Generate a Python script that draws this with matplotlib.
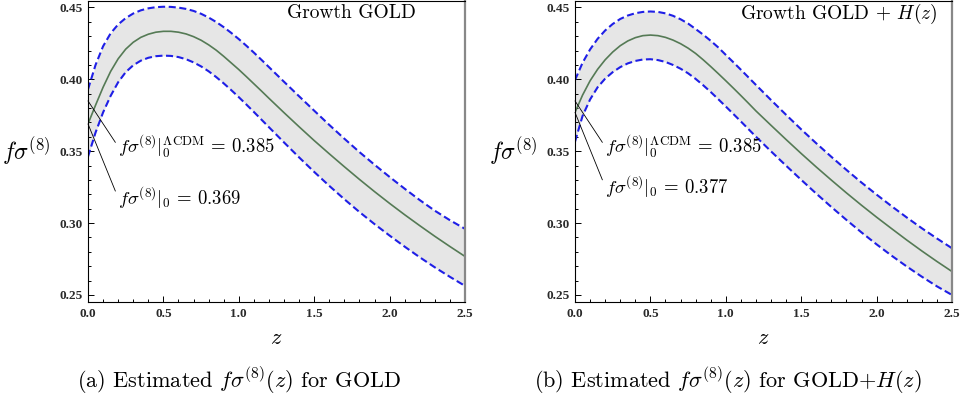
import numpy as np
import matplotlib
matplotlib.use("Agg")
import matplotlib.pyplot as plt
from matplotlib.ticker import MultipleLocator

plt.rcParams['mathtext.fontset'] = 'cm'
plt.rcParams['axes.unicode_minus'] = False

z = [0.0, 0.05, 0.1, 0.15, 0.2, 0.25, 0.3, 0.35, 0.4, 0.45, 0.5, 0.55, 0.6, 0.65,
     0.7, 0.75, 0.8, 0.85, 0.9, 0.95, 1.0, 1.05, 1.1, 1.15, 1.2,
     1.3, 1.4, 1.5, 1.6, 1.7, 1.8, 1.9, 2.0, 2.1, 2.2, 2.3, 2.4, 2.5]

# (a) GOLD
gold_mid = [0.3690, 0.3820, 0.3945, 0.4055, 0.4143, 0.4210, 0.4258, 0.4292, 0.4314,
            0.4328, 0.4334, 0.4334, 0.4328, 0.4316, 0.4297, 0.4272, 0.4240, 0.4203,
            0.4160, 0.4114, 0.4068, 0.4019, 0.3969, 0.3919, 0.3868,
            0.3768, 0.3670, 0.3574, 0.3482, 0.3392, 0.3304, 0.3219, 0.3137, 0.3058,
            0.2982, 0.2908, 0.2837, 0.2768]
gold_up = [0.3930, 0.4100, 0.4230, 0.4320, 0.4382, 0.4426, 0.4458, 0.4480, 0.4494,
           0.4502, 0.4505, 0.4504, 0.4499, 0.4490, 0.4476, 0.4456, 0.4430, 0.4399,
           0.4363, 0.4323, 0.4280, 0.4234, 0.4186, 0.4136, 0.4085,
           0.3983, 0.3882, 0.3782, 0.3683, 0.3587, 0.3494, 0.3406, 0.3321, 0.3239,
           0.3160, 0.3086, 0.3020, 0.2960]
gold_lo = [0.3462, 0.3630, 0.3770, 0.3885, 0.3980, 0.4050, 0.4098, 0.4130, 0.4150,
           0.4161, 0.4165, 0.4163, 0.4155, 0.4140, 0.4118, 0.4090, 0.4056, 0.4016,
           0.3972, 0.3925, 0.3876, 0.3825, 0.3773, 0.3720, 0.3667,
           0.3561, 0.3457, 0.3356, 0.3259, 0.3166, 0.3077, 0.2993, 0.2913, 0.2836,
           0.2762, 0.2692, 0.2626, 0.2563]

# (b) GOLD + H(z)
goldh_mid = [0.3770, 0.3890, 0.3990, 0.4070, 0.4136, 0.4190, 0.4234, 0.4267, 0.4290,
             0.4304, 0.4308, 0.4304, 0.4292, 0.4273, 0.4248, 0.4217, 0.4180, 0.4136,
             0.4089, 0.4040, 0.3990, 0.3939, 0.3887, 0.3834, 0.3780,
             0.3680, 0.3581, 0.3484, 0.3390, 0.3299, 0.3210, 0.3124, 0.3041, 0.2961,
             0.2882, 0.2806, 0.2733, 0.2663]
goldh_up = [0.3995, 0.4115, 0.4208, 0.4282, 0.4340, 0.4385, 0.4420, 0.4444, 0.4460,
            0.4469, 0.4472, 0.4469, 0.4459, 0.4442, 0.4418, 0.4388, 0.4350, 0.4311,
            0.4268, 0.4222, 0.4170, 0.4119, 0.4067, 0.4014, 0.3961,
            0.3856, 0.3753, 0.3652, 0.3555, 0.3461, 0.3370, 0.3282, 0.3198, 0.3117,
            0.3039, 0.2964, 0.2893, 0.2825]
goldh_lo = [0.3566, 0.3745, 0.3860, 0.3945, 0.4005, 0.4050, 0.4085, 0.4111, 0.4128,
            0.4138, 0.4140, 0.4134, 0.4121, 0.4100, 0.4074, 0.4042, 0.4003, 0.3959,
            0.3912, 0.3862, 0.3811, 0.3759, 0.3707, 0.3654, 0.3601,
            0.3499, 0.3399, 0.3301, 0.3205, 0.3112, 0.3022, 0.2935, 0.2852, 0.2773,
            0.2698, 0.2627, 0.2560, 0.2500]

lcdm_0 = 0.385
fits_0 = [0.369, 0.377]
titles = ["Growth GOLD", r"Growth GOLD $+$ $H(z)$"]
captions = [r"(a) Estimated $f\sigma^{(8)}(z)$ for GOLD",
            r"(b) Estimated $f\sigma^{(8)}(z)$ for GOLD$+H(z)$"]

W, H = 962, 401
fig = plt.figure(figsize=(W / 100, H / 100), dpi=100)
lefts = [88 / W, 575 / W]
panels = [(gold_mid, gold_up, gold_lo), (goldh_mid, goldh_up, goldh_lo)]
cap_x = [239 / W, 728 / W]
txt_y = [(0.3532, 0.3175), (0.3532, 0.3253)]

for i in range(2):
    mid, up, lo = panels[i]
    ax = fig.add_axes([lefts[i], 99 / H, 377 / W, 301 / H])
    ax.fill_between(z, lo, up, color='#e6e6e6', lw=0)
    ax.plot(z, up, color='#1f1fe6', lw=1.5, dashes=(3.4, 1.7))
    ax.plot(z, lo, color='#1f1fe6', lw=1.5, dashes=(3.4, 1.7))
    ax.plot(z, mid, color='#557a55', lw=1.2)
    ax.set_xlim(0, 2.5)
    ax.set_ylim(0.2451, 0.4545)
    ax.xaxis.set_major_locator(MultipleLocator(0.5))
    ax.xaxis.set_minor_locator(MultipleLocator(0.1))
    ax.yaxis.set_major_locator(MultipleLocator(0.05))
    ax.yaxis.set_minor_locator(MultipleLocator(0.01))
    ax.xaxis.set_major_formatter(plt.FormatStrFormatter('%.1f'))
    ax.yaxis.set_major_formatter(plt.FormatStrFormatter('%.2f'))
    ax.tick_params(which='both', direction='in', top=False, right=False, width=0.7,
                   colors='black', labelcolor='#2a2a2a')
    ax.tick_params(which='major', length=4, pad=4)
    ax.tick_params(which='minor', length=2)
    for lab in ax.get_xticklabels() + ax.get_yticklabels():
        lab.set_fontfamily('Liberation Serif')
        lab.set_fontweight('bold')
        lab.set_fontsize(9.5)
    for s in ['left', 'bottom', 'top']:
        ax.spines[s].set_linewidth(0.8)
    ax.spines['right'].set_color('#888888')
    ax.spines['right'].set_linewidth(1.6)

    ax.text(1.75, 0.4458, titles[i], ha='center', va='center', fontsize=14,
            family='cmr10')
    ax.set_xlabel(r"$z$", fontsize=16, labelpad=6)
    ax.set_ylabel(r"$f\sigma^{(8)}$", fontsize=17, rotation=0, labelpad=24,
                  va='center')

    ax.annotate(r"$f\sigma^{(8)}|_0^{\Lambda\mathrm{CDM}}\, =\, %.3f$" % lcdm_0,
                xy=(0, lcdm_0), xytext=(0.2, txt_y[i][0]), ha='left', va='center',
                fontsize=13.5,
                arrowprops=dict(arrowstyle='-', lw=0.6, color='black',
                                shrinkA=0, shrinkB=0, relpos=(0, 0.5)))
    ax.annotate(r"$f\sigma^{(8)}|_0\, =\, %.3f$" % fits_0[i],
                xy=(0, fits_0[i]), xytext=(0.2, txt_y[i][1]), ha='left', va='center',
                fontsize=13.5,
                arrowprops=dict(arrowstyle='-', lw=0.6, color='black',
                                shrinkA=0, shrinkB=0, relpos=(0, 0.5)))

    fig.text(cap_x[i], 1 - 381 / H, captions[i], ha='center', va='center',
             fontsize=16, family='cmr10')

fig.savefig('out.png', dpi=100)
